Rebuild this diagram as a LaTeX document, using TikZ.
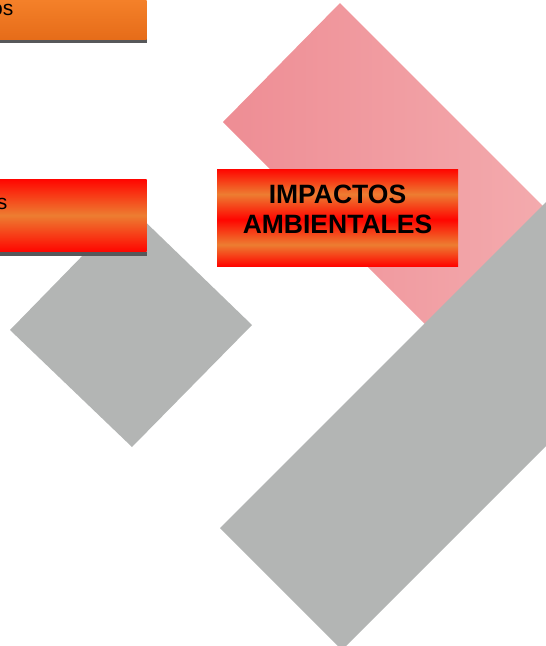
\documentclass[tikz,border=0pt]{standalone}
\usepackage{fontspec}
\setmainfont{Liberation Sans}
\definecolor{grisforma}{HTML}{B3B5B4}
\definecolor{rosaA}{HTML}{EE8D94}
\definecolor{rosaB}{HTML}{F5B3B5}
\definecolor{rojo}{HTML}{FF0500}
\definecolor{naranja}{HTML}{ED7D31}
\definecolor{naranjaA}{HTML}{F6832B}
\definecolor{naranjaB}{HTML}{E66C19}
\definecolor{sombra}{HTML}{57585A}
\pgfdeclareverticalshading{franjas}{100bp}{color(0bp)=(rojo); color(25bp)=(rojo); color(36bp)=(naranja); color(49bp)=(rojo); color(62bp)=(naranja); color(75bp)=(rojo); color(100bp)=(rojo)}
\pgfdeclareverticalshading{franjados}{100bp}{color(0bp)=(rojo); color(25bp)=(rojo); color(50bp)=(naranja); color(75bp)=(rojo); color(100bp)=(rojo)}
\begin{document}
\begin{tikzpicture}[x=1pt,y=-1pt,
  cajatitulo/.style={minimum width=241pt,minimum height=97pt,inner sep=0pt,shade,shading=franjas},
  titulo/.style={align=center,inner sep=0pt,font=\bfseries\fontsize{26.5}{30}\selectfont},
  textolado/.style={anchor=base east,inner sep=0pt,font=\fontsize{21}{24}\selectfont}]
  \useasboundingbox (0,0) rectangle (546,646);
  \clip (0,0) rectangle (546,646);
  % formas de fondo
  \shade[left color=rosaA,right color=rosaB] (340,3) -- (223,122) -- (523,422) -- (640,303) -- cycle;
  \fill[grisforma] (220,528) -- (342,650) -- (742,250) -- (620,128) -- cycle;
  \fill[grisforma] (10,330) -- (132,447) -- (252,325) -- (130,207) -- cycle;
  % cajas de la izquierda
  \fill[sombra] (-5,39) rectangle (146.7,42.7);
  \shade[top color=naranjaA,bottom color=naranjaB] (-5,-5) rectangle (146.7,39);
  \node[textolado] (textouno) at (13.5,15) {os};
  \fill[sombra] (-5,251.7) rectangle (146.7,255.7);
  \shade[shading=franjados] (-5,179) rectangle (146.7,251.7);
  \node[textolado] (textodos) at (7.5,209) {s};
  % caja central
  \node[cajatitulo] (caja) at (337.5,217.5) {};
  \node[titulo] (impactos) at (337.5,209.5) {IMPACTOS\\AMBIENTALES};
\end{tikzpicture}
\end{document}
